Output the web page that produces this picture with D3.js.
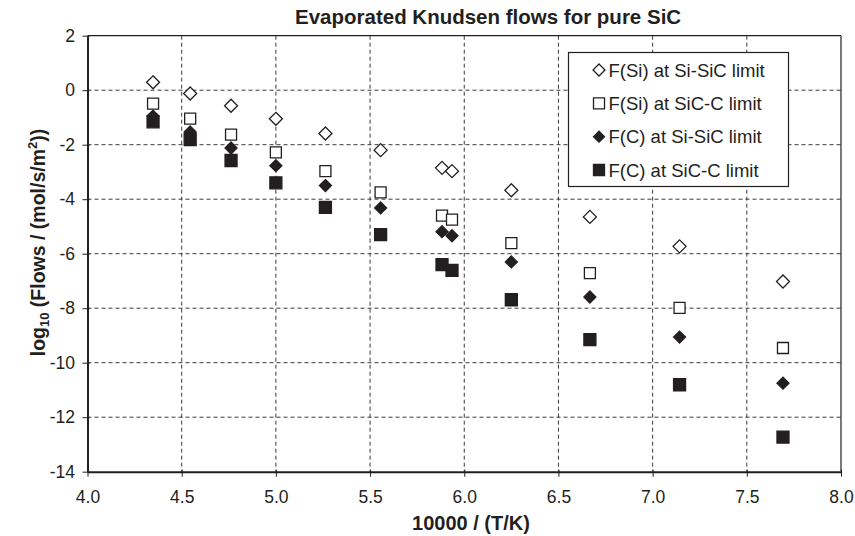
<!DOCTYPE html>
<html><head><meta charset="utf-8">
<script src="https://cdn.jsdelivr.net/npm/d3@7"></script>
<style>body{margin:0;background:#fff}svg{display:block}text{font-family:Arial,"Liberation Sans",sans-serif;fill:#231f20}</style>
</head><body>
<svg id="c" width="855" height="536"></svg>
<script>
const invT = [4.348, 4.545, 4.762, 5.0, 5.263, 5.556, 5.882, 5.935, 6.25, 6.667, 7.143, 7.692];
const fSiSiSiC = [0.29, -0.12, -0.57, -1.05, -1.59, -2.20, -2.85, -2.97, -3.67, -4.65, -5.73, -7.02];
const fSiSiCC = [-0.49, -1.04, -1.63, -2.28, -2.97, -3.75, -4.60, -4.75, -5.61, -6.71, -7.99, -9.46];
const fCSiSiC = [-0.95, -1.53, -2.12, -2.77, -3.50, -4.32, -5.19, -5.34, -6.30, -7.59, -9.06, -10.75];
const fCSiCC = [-1.16, -1.81, -2.58, -3.40, -4.30, -5.30, -6.40, -6.61, -7.69, -9.15, -10.81, -12.73];
const seriesNames = ["F(Si) at Si-SiC limit", "F(Si) at SiC-C limit", "F(C) at Si-SiC limit", "F(C) at SiC-C limit"];
const xTicks = [4.0, 4.5, 5.0, 5.5, 6.0, 6.5, 7.0, 7.5, 8.0];
const yTicks = [2, 0, -2, -4, -6, -8, -10, -12, -14];

const svg = d3.select("#c");
const L = 87.5, R = 841, T = 35.7, B = 471.7;
const x = d3.scaleLinear().domain([4, 8]).range([L, R]);
const y = d3.scaleLinear().domain([-14, 2]).range([B, T]);
const ink = "#231f20";
const FONT = "Arial, 'Liberation Sans', sans-serif";

// grid
const g = svg.append("g");
g.selectAll("line.v").data(xTicks.slice(1, -1)).join("line")
  .attr("x1", d => x(d)).attr("x2", d => x(d)).attr("y1", T).attr("y2", B)
  .attr("stroke", "#3a3a3a").attr("stroke-width", 1).attr("stroke-dasharray", "4,3");
g.selectAll("line.h").data(yTicks.slice(1, -1)).join("line")
  .attr("x1", L).attr("x2", R).attr("y1", d => y(d)).attr("y2", d => y(d))
  .attr("stroke", "#3a3a3a").attr("stroke-width", 1).attr("stroke-dasharray", "4,3");
// frame top/right
svg.append("line").attr("x1", L).attr("x2", R).attr("y1", T).attr("y2", T).attr("stroke", ink).attr("stroke-width", 1.2);
svg.append("line").attr("x1", R).attr("x2", R).attr("y1", T).attr("y2", B).attr("stroke", ink).attr("stroke-width", 1.2);

// axes
const xAxis = d3.axisBottom(x).tickValues(xTicks).tickFormat(d3.format(".1f")).tickSize(5).tickSizeOuter(0);
const gx = svg.append("g").attr("transform", `translate(0,${B})`).call(xAxis);
gx.select(".domain").attr("stroke", ink).attr("stroke-width", 2);
gx.selectAll(".tick line").attr("stroke", ink).attr("y1", -2);
gx.selectAll(".tick text").attr("font-size", 17.5).attr("y", 0).attr("dy", "1.77em")
  .attr("fill", ink).attr("font-family", FONT);

const yAxis = d3.axisLeft(y).tickValues(yTicks).tickSize(5).tickSizeOuter(0);
const gy = svg.append("g").attr("transform", `translate(${L},0)`).call(yAxis);
gy.select(".domain").attr("stroke", ink).attr("stroke-width", 2);
gy.selectAll(".tick line").attr("stroke", ink).attr("x1", 2);
gy.selectAll(".tick text").attr("font-size", 17.5).attr("x", -12.5).attr("fill", ink)
  .attr("font-family", FONT).text(d => String(d));

// markers
const diamond = r => `M0,${-r}L${r},0L0,${r}L${-r},0Z`;
const square = s => `M${-s/2},${-s/2}h${s}v${s}h${-s}Z`;
const sym = [
  {data: fSiSiSiC, path: diamond(6.5), fill: "#fff"},
  {data: fSiSiCC, path: square(11), fill: "#fff"},
  {data: fCSiSiC, path: diamond(6), fill: ink},
  {data: fCSiCC, path: square(12), fill: ink}
];
sym.forEach(s => {
  svg.append("g").selectAll("path").data(s.data).join("path")
    .attr("d", s.path)
    .attr("transform", (d, i) => `translate(${x(invT[i])},${y(d)})`)
    .attr("fill", s.fill).attr("stroke", ink).attr("stroke-width", 1.3);
});

// legend
const lg = svg.append("g");
lg.append("rect").attr("x", 568.5).attr("y", 52.5).attr("width", 220).attr("height", 134)
  .attr("fill", "#fff").attr("stroke", ink).attr("stroke-width", 1.2);
const legY = [70, 103.3, 136.7, 170];
const legSym = [diamond(6), square(11), diamond(5.5), square(11)];
sym.forEach((s, i) => {
  lg.append("path").attr("d", legSym[i])
    .attr("transform", `translate(599,${legY[i]})`)
    .attr("fill", s.fill).attr("stroke", ink).attr("stroke-width", 1.3);
  lg.append("text").attr("x", 608.5).attr("y", legY[i]).attr("dy", "0.36em")
    .attr("font-size", 18.5).text(seriesNames[i]);
});

// title
svg.append("text").attr("x", 295).attr("y", 24).attr("text-anchor", "start")
  .attr("font-size", 20.5).attr("font-weight", "bold").text("Evaporated Knudsen flows for pure SiC");
// x label
svg.append("text").attr("x", 471).attr("y", 530).attr("text-anchor", "middle")
  .attr("font-size", 20).attr("font-weight", "bold").text("10000 / (T/K)");
// y label
const yl = svg.append("text").attr("transform", `translate(45,242.5) rotate(-90)`)
  .attr("text-anchor", "middle").attr("font-size", 19.5).attr("font-weight", "bold");
yl.append("tspan").text("log");
yl.append("tspan").attr("font-size", 13).attr("dy", 4).text("10");
yl.append("tspan").attr("dy", -4).text(" (Flows / (mol/s/m");
yl.append("tspan").attr("font-size", 13).attr("dy", -8).text("2");
yl.append("tspan").attr("dy", 8).text("))");
</script>
</body></html>
